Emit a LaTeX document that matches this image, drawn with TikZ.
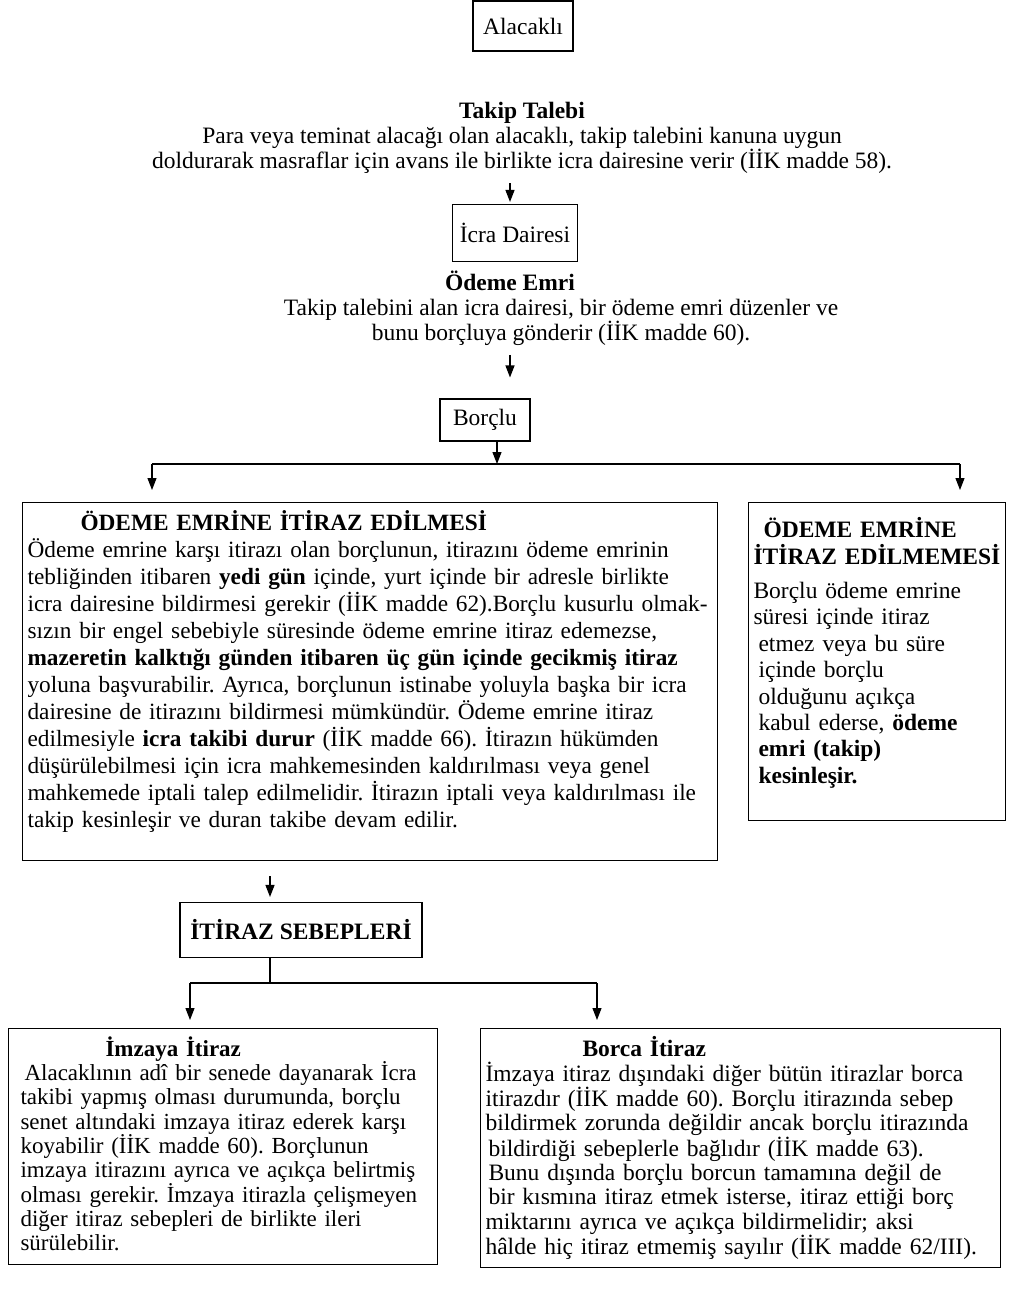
\documentclass[tikz,border=0pt]{standalone}
\usepackage{fontspec}
\setmainfont{Liberation Serif}
\usetikzlibrary{arrows.meta,positioning}

\tikzset{
  box/.style={draw, line width=1.1pt, inner sep=0pt},
  textbox/.style={draw, line width=1.1pt, anchor=north west, align=left, inner xsep=5pt, inner ysep=8pt},
  arr/.style={-{Triangle[length=12pt,width=9pt]}, line width=1.1pt},
}

\begin{document}
\frenchspacing
\begin{tikzpicture}[x=1pt,y=-1pt,font=\fontsize{23.5}{25}\selectfont]
\useasboundingbox (0,0) rectangle (1019,1291);

\node[box, minimum width=100pt, minimum height=50pt] (alacakli) at (523,26) {Alacaklı};
\node[align=center] (takip) at (522,138) {\textbf{Takip Talebi}\\
  Para veya teminat alacağı olan alacaklı, takip talebini kanuna uygun\\
  doldurarak masraflar için avans ile birlikte icra dairesine verir (İİK madde 58).};

\node[box, minimum width=125pt, minimum height=57pt] (icra) at (515,233) {İcra Dairesi};
\node[align=center] (odeme) at (561,308) {\textbf{Ödeme Emri}\hspace*{102pt}\\
  Takip talebini alan icra dairesi, bir ödeme emri düzenler ve\\
  bunu borçluya gönderir (İİK madde 60).};

\node[box, minimum width=90pt, minimum height=42pt] (borclu) at (485,420) {Borçlu};

% dallanma
\coordinate (hub) at (497,464);
\coordinate (hubL) at (152,464);
\coordinate (hubR) at (960,464);

\node[textbox, text width=685pt, font=\fontsize{23.3}{27}\selectfont] (itiraz) at (22,502) {%
  \hspace*{53pt}\textbf{ÖDEME EMRİNE İTİRAZ EDİLMESİ}\\
  Ödeme emrine karşı itirazı olan borçlunun, itirazını ödeme emrinin\\
  tebliğinden itibaren \textbf{yedi gün} içinde, yurt içinde bir adresle birlikte\\
  \mbox{icra dairesine bildirmesi gerekir (İİK madde 62).Borçlu kusurlu olmak-}\\
  sızın bir engel sebebiyle süresinde ödeme emrine itiraz edemezse,\\
  \textbf{mazeretin kalktığı günden itibaren üç gün içinde gecikmiş itiraz}\\
  yoluna başvurabilir. Ayrıca, borçlunun istinabe yoluyla başka bir icra\\
  dairesine de itirazını bildirmesi mümkündür. Ödeme emrine itiraz\\
  edilmesiyle \textbf{icra takibi durur} (İİK madde 66). İtirazın hükümden\\
  düşürülebilmesi için icra mahkemesinden kaldırılması veya genel\\
  \mbox{mahkemede iptali talep edilmelidir. İtirazın iptali veya kaldırılması ile}\\
  takip kesinleşir ve duran takibe devam edilir.\rule[-25pt]{0pt}{25pt}};

\node[textbox, text width=247pt, inner ysep=15pt, font=\fontsize{23.5}{26.4}\selectfont] (itirazyok) at (748,502) {%
  \hspace*{10pt}\textbf{ÖDEME EMRİNE}\\
  \textbf{İTİRAZ EDİLMEMESİ}\\[8pt]
  Borçlu ödeme emrine\\
  süresi içinde itiraz\\
  \hspace*{5pt}etmez veya bu süre\\
  \hspace*{5pt}içinde borçlu\\
  \hspace*{5pt}olduğunu açıkça\\
  \hspace*{5pt}kabul ederse, \textbf{ödeme}\\
  \hspace*{5pt}\textbf{emri (takip)}\\
  \hspace*{5pt}\textbf{kesinleşir.}\rule[-22pt]{0pt}{22pt}};

\node[box, minimum width=242pt, minimum height=55pt] (sebep) at (301,930) {\textbf{İTİRAZ SEBEPLERİ}};

\coordinate (hub2) at (270,983);
\coordinate (hub2L) at (190,983);
\coordinate (hub2R) at (597,983);

\node[textbox, text width=405pt, inner xsep=12pt, font=\fontsize{23}{24.3}\selectfont] (imza) at (8,1028) {%
  \hspace*{85pt}\textbf{İmzaya İtiraz}\\
  \hspace*{4pt}Alacaklının adî bir senede dayanarak İcra\\
  takibi yapmış olması durumunda, borçlu\\
  senet altındaki imzaya itiraz ederek karşı\\
  koyabilir (İİK madde 60). Borçlunun\\
  imzaya itirazını ayrıca ve açıkça belirtmiş\\
  olması gerekir. İmzaya itirazla çelişmeyen\\
  diğer itiraz sebepleri de birlikte ileri\\
  sürülebilir.\rule[-6pt]{0pt}{6pt}};

\node[textbox, text width=510pt, font=\fontsize{23.5}{24.3}\selectfont] (borca) at (480,1028) {%
  \hspace*{97pt}\textbf{Borca İtiraz}\\
  İmzaya itiraz dışındaki diğer bütün itirazlar borca\\
  itirazdır (İİK madde 60). Borçlu itirazında sebep\\
  bildirmek zorunda değildir ancak borçlu itirazında\\
  \hspace*{3pt}bildirdiği sebeplerle bağlıdır (İİK madde 63).\\
  \hspace*{3pt}Bunu dışında borçlu borcun tamamına değil de\\
  \hspace*{3pt}bir kısmına itiraz etmek isterse, itiraz ettiği borç\\
  miktarını ayrıca ve açıkça bildirmelidir; aksi\\
  hâlde hiç itiraz etmemiş sayılır (İİK madde 62/III).};

% oklar
\draw[arr, shorten <=6pt, shorten >=2pt] ([xshift=-5pt]takip.south -| icra.north) -- ([xshift=-5pt]icra.north);
\draw[arr, shorten <=6pt, shorten >=21pt] ([xshift=-5pt]odeme.south -| icra.south) -- ([xshift=-5pt]borclu.north -| icra.south);
\draw[arr] (borclu.south -| hub) -- (hub);
\draw[line width=1.1pt] (hubL) -- (hubR);
\draw[arr, shorten >=12pt] (hubL) -- (hubL |- itiraz.north);
\draw[arr, shorten >=12pt] (hubR) -- (hubR |- itirazyok.north);
\draw[arr, shorten <=15pt, shorten >=5pt] (itiraz.south -| hub2) -- (sebep.north -| hub2);
\draw[line width=1.1pt] (sebep.south -| hub2) -- (hub2);
\draw[line width=1.1pt] (hub2L) -- (hub2R);
\draw[arr, shorten >=8pt] (hub2L) -- (hub2L |- imza.north);
\draw[arr, shorten >=8pt] (hub2R) -- (hub2R |- borca.north);
\end{tikzpicture}
\end{document}
